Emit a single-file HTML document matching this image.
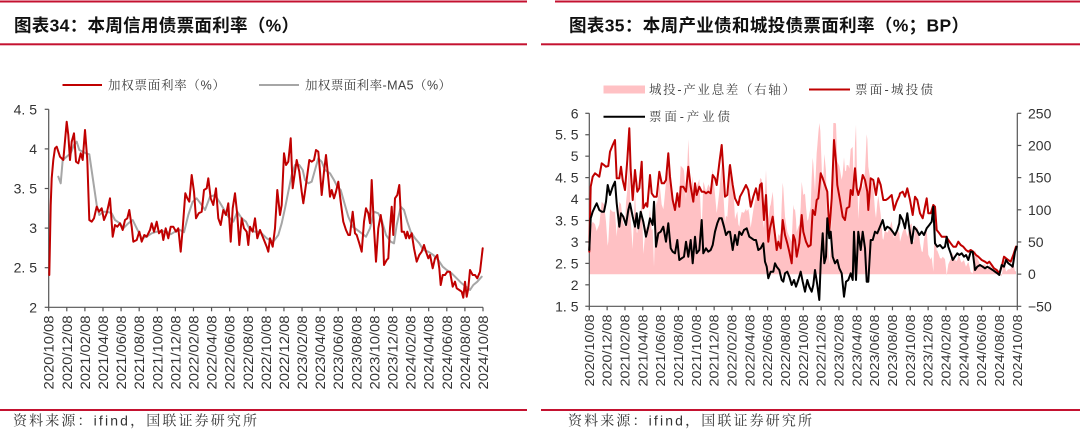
<!DOCTYPE html>
<html><head><meta charset="utf-8">
<style>
html,body{margin:0;padding:0;background:#fff;}
svg{display:block;}
</style></head><body>
<svg id="s" width="1080" height="444" viewBox="0 0 1080 444" xmlns="http://www.w3.org/2000/svg">
<rect width="1080" height="444" fill="#fff"/>
<!-- header / footer rules -->
<rect x="0" y="0.5" width="527" height="2" fill="#c41230"/>
<rect x="0" y="43.3" width="527" height="2" fill="#c41230"/>
<rect x="555" y="0.5" width="525" height="2" fill="#c41230"/>
<rect x="541" y="43.3" width="539" height="2" fill="#c41230"/>
<rect x="0" y="409" width="527" height="2" fill="#c41230"/>
<rect x="541" y="409" width="539" height="2" fill="#c41230"/>

<!-- titles -->
<text x="14" y="31.5" font-size="17.5" font-weight="bold" fill="#111" font-family="'Liberation Sans','Noto Sans CJK SC',sans-serif" textLength="285" lengthAdjust="spacing">图表34：本周信用债票面利率（%）</text>
<text x="569" y="31.5" font-size="17.5" font-weight="bold" fill="#111" font-family="'Liberation Sans','Noto Sans CJK SC',sans-serif" textLength="400" lengthAdjust="spacing">图表35：本周产业债和城投债票面利率（%；BP）</text>

<!-- sources -->
<text x="13" y="425.5" font-size="14" fill="#333" font-family="'Liberation Sans','Noto Serif CJK SC',serif" textLength="244" lengthAdjust="spacing">资料来源：ifind，国联证券研究所</text>
<text x="568" y="425.5" font-size="14" fill="#333" font-family="'Liberation Sans','Noto Serif CJK SC',serif" textLength="244" lengthAdjust="spacing">资料来源：ifind，国联证券研究所</text>

<!-- left legend -->
<line x1="62.5" y1="85" x2="102" y2="85" stroke="#c00000" stroke-width="2"/>
<text x="108" y="89.5" font-size="12.5" fill="#404040" font-family="'Liberation Sans','Noto Serif CJK SC',serif" textLength="117" lengthAdjust="spacing">加权票面利率（%）</text>
<line x1="259" y1="85" x2="299" y2="85" stroke="#a6a6a6" stroke-width="2"/>
<text x="305" y="89.5" font-size="12.5" fill="#404040" font-family="'Liberation Sans','Noto Serif CJK SC',serif" textLength="146" lengthAdjust="spacing">加权票面利率-MA5（%）</text>

<!-- right legend -->
<rect x="603.5" y="85.5" width="41.5" height="8" fill="#ffc1c4"/>
<text x="649" y="94" font-size="12.5" fill="#404040" font-family="'Liberation Sans','Noto Serif CJK SC',serif" textLength="146" lengthAdjust="spacing">城投-产业息差（右轴）</text>
<line x1="809" y1="89.5" x2="850" y2="89.5" stroke="#c00000" stroke-width="2"/>
<text x="855" y="94" font-size="12.5" fill="#404040" font-family="'Liberation Sans','Noto Serif CJK SC',serif" textLength="78" lengthAdjust="spacing">票面-城投债</text>
<line x1="603.5" y1="116.7" x2="645" y2="116.7" stroke="#000" stroke-width="2"/>
<text x="649" y="121" font-size="12.5" fill="#404040" font-family="'Liberation Sans','Noto Serif CJK SC',serif" textLength="81" lengthAdjust="spacing">票面-产业债</text>

<g id="pinkg"></g>
<g id="axes" stroke="#555" stroke-width="1.2" fill="none"></g>
<g id="lbl" fill="#333" font-family="'Liberation Sans',sans-serif"></g>
<g id="series"></g>
</svg>
<script>
(function(){
var NS="http://www.w3.org/2000/svg";
function el(tag,attrs,parent,txt){var e=document.createElementNS(NS,tag);for(var k in attrs)e.setAttribute(k,attrs[k]);if(txt!==undefined)e.textContent=txt;parent.appendChild(e);return e;}
var axes=document.getElementById('axes'),lbl=document.getElementById('lbl'),series=document.getElementById('series'),pinkg=document.getElementById('pinkg');

var dates=[];
for(var i=0;i<25;i++){var m=10+2*i;var y=2020+Math.floor((m-1)/12);var mm=((m-1)%12)+1;dates.push(y+"/"+(mm<10?"0":"")+mm+"/08");}

// ---------- LEFT CHART ----------
var LX0=48.7,LX1=483,LY0=109.3,LY1=307.3;
el('line',{x1:LX0,y1:LY0,x2:LX0,y2:LY1},axes);
el('line',{x1:LX0,y1:LY1,x2:LX1,y2:LY1},axes);
var lyl=["4. 5","4","3. 5","3","2. 5","2"];
for(var k=0;k<6;k++){var yy=LY0+k*39.6;el('line',{x1:LX0-4,y1:yy,x2:LX0,y2:yy},axes);
 el('text',{x:37,y:yy+5,'font-size':14,'text-anchor':'end'},lbl,lyl[k]);}
var lsp=(LX1-LX0)/24;
for(var i=0;i<25;i++){var xx=LX0+i*lsp;el('line',{x1:xx,y1:LY1,x2:xx,y2:LY1+4},axes);
 el('text',{transform:'translate('+(xx+5)+',315.5) rotate(-90)','font-size':14,'text-anchor':'end',textLength:74,lengthAdjust:'spacingAndGlyphs'},lbl,dates[i]);}

// ---------- RIGHT CHART ----------
var RX0=589.3,RX1=1017.3,RY0=113.3,RY1=306.3;
el('line',{x1:RX0,y1:RY0,x2:RX0,y2:RY1},axes);
el('line',{x1:RX1,y1:RY0,x2:RX1,y2:RY1},axes);
el('line',{x1:RX0,y1:RY1,x2:RX1,y2:RY1},axes);
var ryl=["6","5. 5","5","4. 5","4","3. 5","3","2. 5","2","1. 5"];
for(var k=0;k<10;k++){var yy=RY0+k*21.44;el('line',{x1:RX0-4,y1:yy,x2:RX0,y2:yy},axes);
 el('text',{x:578.5,y:yy+5,'font-size':14,'text-anchor':'end'},lbl,ryl[k]);}
var rrl=["250","200","150","100","50","0","\u221250"];
for(var k=0;k<7;k++){var yy=RY0+k*32.17;el('line',{x1:RX1,y1:yy,x2:RX1+4,y2:yy},axes);
 el('text',{x:1028,y:yy+5,'font-size':14},lbl,rrl[k]);}
var rsp=(RX1-RX0)/24;
for(var i=0;i<25;i++){var xx=RX0+i*rsp;el('line',{x1:xx,y1:RY1,x2:xx,y2:RY1+4},axes);
 el('text',{transform:'translate('+(xx+4.5)+',314.5) rotate(-90)','font-size':13,'text-anchor':'end',textLength:72,lengthAdjust:'spacingAndGlyphs'},lbl,dates[i]);}

// ---------- DATA ----------
function build(segs){var out=[];segs.forEach(function(s){var ox=s[0],oy=s[1],lo=s[2],hi=s[3],a=s[4];
 for(var i=0;i<a.length;i+=2){var x=ox+a[i]/3,y=oy+a[i+1]/3;if(x>=lo&&x<hi)out.push([x,y]);}});return out;}
function poly(p,color,w){el('polyline',{points:p.map(function(q){return q[0].toFixed(1)+','+q[1].toFixed(1);}).join(' '),fill:'none',stroke:color,'stroke-width':w,'stroke-linejoin':'round','stroke-linecap':'round'},series);}

var lRed4=[148,540,152,330,155,250,160,195,165,160,170,155,180,185,190,195,200,80,205,120,210,195,215,140,222,115,228,200,235,205,242,175,248,195,255,105,262,195,268,375,275,380,282,370,290,335,297,350,305,340,312,375,320,355,330,310,338,425,345,390,352,395,360,385,368,405,375,375,382,370,388,345,395,395,400,440,410,435,418,410,425,440,433,420,440,425,450,405,455,385,462,410,470,380,477,415,485,405,490,435,497,400,505,430,512,395,520,395,528,410,535,400,542,470,548,400,556,295,562,310,568,320,575,240,582,290,588,370,596,355,605,350,612,285,620,280,625,250,632,310,640,330,648,280,655,370,662,390,670,345,678,360,685,325,692,440,698,340,705,295,712,360,718,450,725,370,732,400,740,410,745,450,750,395,758,410,765,370,772,430,780,420];
var lRed5=[0,405,10,430,20,455,25,470,30,430,38,455,45,400,52,285,60,360,65,330,72,175,78,210,85,200,92,130,98,280,105,230,110,195,118,230,125,290,130,325,135,290,142,240,148,195,155,200,162,195,168,165,175,170,180,230,185,300,192,230,198,180,205,250,210,305,215,285,222,310,228,290,235,260,242,320,250,380,258,405,265,420,270,420,278,350,285,415,290,420,298,445,305,470,312,380,318,340,325,355,330,385,335,255,342,400,348,500,355,400,362,360,368,400,372,510,380,495,385,490,390,400,395,335,400,420,405,310,412,300,418,270,425,410,432,410,438,430,442,410,448,430,455,415,462,460,470,500,478,480,485,470,492,450,498,470,505,490,510,480,518,520,525,490,532,480,538,520,542,570,548,540,555,540,562,530,570,530,578,575,585,560,590,580,598,585,605,590,610,608,615,560,620,605,625,580,630,525,638,540,645,540,652,550,660,530,668,460];
var lGr4=[175,245,182,265,188,195,200,185,212,175,222,150,230,140,238,165,248,170,258,175,268,178,280,260,290,330,298,360,310,350,322,350,335,355,345,375,360,385,370,400,385,385,398,375,410,400,425,430,440,425,455,415,470,410,485,408,500,410,512,418,525,410,540,405,552,412,565,360,578,320,590,310,605,330,615,345,630,305,645,300,658,320,670,340,685,365,700,380,712,350,725,370,738,380,750,405,765,410,780,410];
var lGr5=[0,410,20,430,40,440,55,420,65,385,75,340,85,290,95,240,105,210,118,210,128,225,135,255,145,265,155,260,165,225,175,190,185,200,195,225,210,235,222,255,232,275,242,285,252,320,265,365,278,395,292,405,305,415,318,425,330,400,342,350,355,355,365,375,378,420,392,440,402,445,410,390,422,335,432,345,442,380,452,410,465,430,478,445,490,465,505,470,520,480,535,495,548,515,560,525,575,535,590,550,605,565,618,575,630,585,640,570,652,560,665,545];

var rRed9=[148,575,152,380,158,350,165,340,172,345,178,350,185,310,192,315,198,320,205,318,210,275,218,255,225,240,230,355,238,355,243,320,248,360,255,390,262,300,268,205,272,330,278,420,285,330,292,395,298,385,305,305,310,445,318,430,322,440,330,345,335,400,342,410,350,410,358,335,365,370,372,370,378,360,385,280,390,350,398,420,405,450,412,400,418,440,422,380,430,380,438,395,445,320,452,380,460,425,465,370,470,405,478,380,485,395,492,395,498,400,505,395,512,400,518,345,525,355,530,375,538,310,545,255,550,330,555,410,562,405,569,320];
var rRed10=[0,195,8,255,15,295,25,315,30,290,38,275,48,255,55,270,62,320,70,290,78,265,85,300,90,255,95,250,102,360,108,285,115,425,120,385,128,350,135,405,140,450,145,425,152,445,158,360,165,405,172,430,178,455,185,490,190,405,195,420,200,470,208,430,215,345,220,395,228,425,235,440,242,435,248,330,255,345,260,300,265,295,272,220,278,235,285,255,292,275,298,395,305,295,312,120,318,185,322,255,330,300,338,350,345,360,350,325,358,320,362,270,368,285,375,205,380,265,385,285,392,260,398,225,405,240,412,275,415,330,422,235,430,240,438,285,445,235,452,255,460,300,468,300,475,295,485,285,492,330,500,305,508,288];
var rRed11=[0,280,8,275,15,290,22,265,30,300,38,345,45,290,52,300,60,340,68,355,75,320,80,295,85,340,92,340,100,315,105,320,110,390,118,400,125,410,130,410,138,410,145,420,152,430,160,440,168,440,175,425,182,435,190,440,198,450,205,455,212,450,220,455,228,465,235,470,245,480,255,485,262,490,268,485,275,495,282,505,290,510,298,520,305,500,312,470,318,475,325,480,332,485,340,465,348,440];
var rBk9=[148,570,152,475,158,455,165,440,170,430,178,450,185,455,192,455,198,425,203,375,210,405,218,380,225,365,230,430,238,500,243,460,250,470,258,495,265,450,270,430,278,470,285,500,290,460,295,505,302,455,310,485,318,530,325,500,330,475,338,495,342,425,348,560,355,520,362,515,370,500,378,545,385,490,392,565,398,575,405,580,412,540,418,600,425,595,432,590,438,545,445,590,452,540,458,610,465,530,470,580,478,570,485,480,490,580,498,565,505,575,512,570,518,555,525,515,532,490,538,475,545,475,552,500,558,525,565,515];
var rBk10=[0,395,8,450,15,405,22,435,28,395,35,405,42,390,50,385,58,410,65,415,72,420,78,420,85,450,92,445,100,430,105,485,110,500,115,535,122,515,130,515,135,490,140,500,148,510,155,540,160,545,165,520,172,515,178,530,185,555,192,540,198,560,205,540,212,515,218,545,225,575,232,540,238,560,245,575,250,555,255,510,262,555,268,600,272,490,278,400,283,490,288,470,292,355,298,415,302,395,308,470,315,490,322,480,328,505,335,520,342,590,348,545,355,540,362,520,368,540,372,395,378,540,385,395,392,450,398,395,405,445,410,545,415,545,422,420,428,420,435,395,442,400,450,380,458,360,465,390,472,380,480,385,488,395,495,405,502,390,508,370];
var rBk11=[0,345,8,360,15,385,22,340,28,385,35,430,42,380,50,390,58,405,65,395,72,405,80,385,88,375,95,365,100,320,105,430,112,440,120,435,128,445,135,440,140,410,145,440,152,460,158,480,165,470,172,460,178,465,185,460,192,470,198,465,205,480,212,455,218,455,225,510,232,500,240,495,248,500,255,505,262,500,270,505,278,510,285,515,292,520,298,525,305,495,312,500,318,480,325,490,332,495,338,500,345,455,350,440];

var lRed=build([[0,95,0,260,lRed4],[260,95,260,1000,lRed5]]);
var lGr=build([[0,95,0,260,lGr4],[260,95,260,1000,lGr5]]);
var rRed=build([[540,60,0,730,rRed9],[730,100,730,900,rRed10],[900,100,900,2000,rRed11]]);
var rBk=build([[540,60,0,730,rBk9],[730,100,730,900,rBk10],[900,100,900,2000,rBk11]]);

function interp(p,x){if(x<=p[0][0])return p[0][1];for(var i=1;i<p.length;i++){if(p[i][0]>=x){var a=p[i-1],b=p[i];var t=(x-a[0])/((b[0]-a[0])||1);return a[1]+t*(b[1]-a[1]);}}return p[p.length-1][1];}

// pink spread area (right axis): height = 1.4986 * (yBlack - yRed)
var base=RY0+5*32.17;
var xs=[];var x0=Math.max(rRed[0][0],rBk[0][0]),x1=Math.min(rRed[rRed.length-1][0],rBk[rBk.length-1][0]);
var set={};
rRed.concat(rBk).forEach(function(q){if(q[0]>=x0&&q[0]<=x1)set[q[0].toFixed(2)]=1;});
for(var x=x0;x<=x1;x+=1)set[x.toFixed(2)]=1;
xs=Object.keys(set).map(Number).sort(function(a,b){return a-b;});
var d='M'+x0.toFixed(1)+','+base.toFixed(1);
xs.forEach(function(x){var yr=interp(rRed,x),yb=interp(rBk,x);var top=base-(yb-yr)*1.4986;if(top<123)top=123;if(top>292)top=292;d+=' L'+x.toFixed(2)+','+top.toFixed(1);});
d+=' L'+x1.toFixed(1)+','+base.toFixed(1)+' Z';
el('path',{d:d,fill:'#ffc1c4',stroke:'none'},pinkg);

poly(lGr,'#a6a6a6',2);
poly(lRed,'#c00000',2);
poly(rRed,'#c00000',2);
poly(rBk,'#000000',2);
})();
</script>
</body></html>
